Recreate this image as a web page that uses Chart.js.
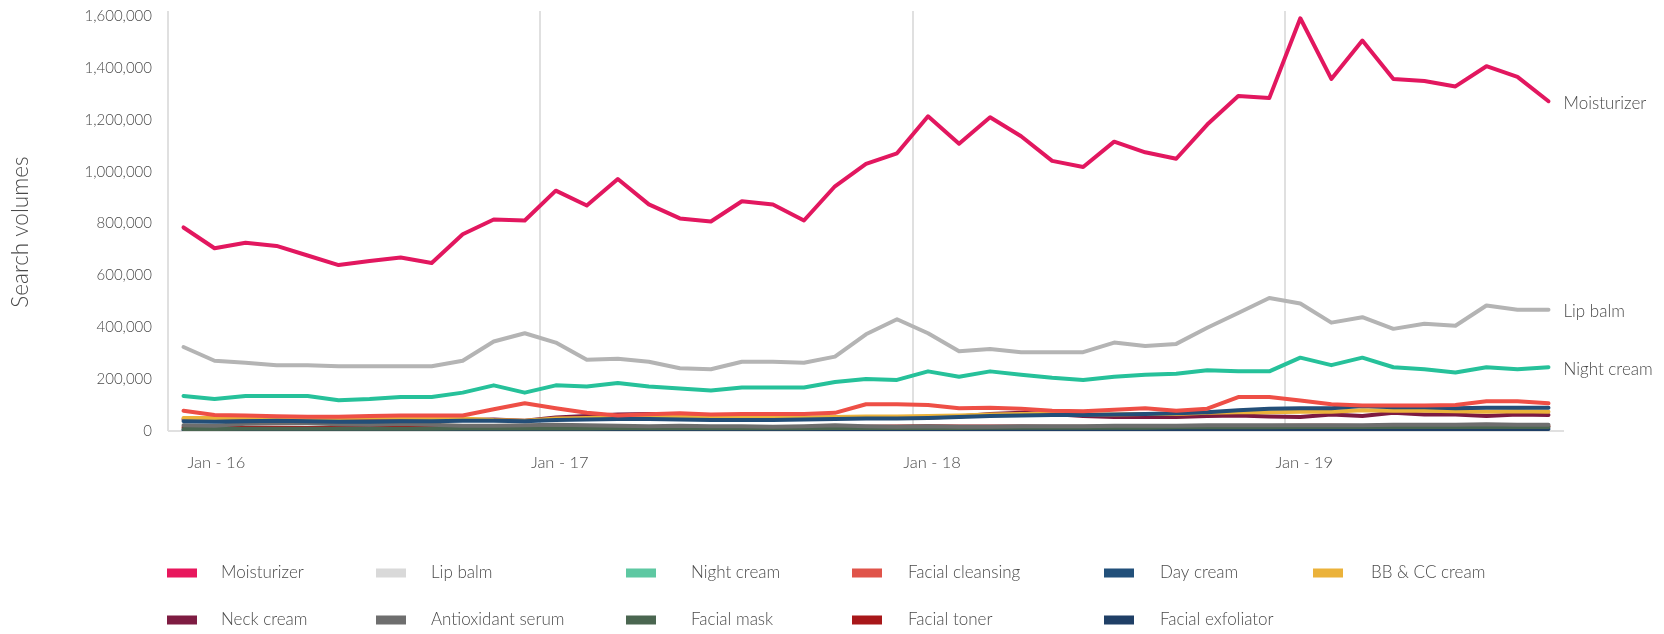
<!DOCTYPE html>
<html>
<head>
<meta charset="utf-8">
<script src="https://cdn.jsdelivr.net/npm/chart.js@4.4.1/dist/chart.umd.min.js"></script>
<style>
  html, body { margin: 0; padding: 0; background: #ffffff; }
  #wrap { width: 1664px; height: 634px; position: relative; }
</style>
</head>
<body>
<div id="wrap"><canvas id="chart" width="1664" height="634"></canvas></div>
<script>
// Monthly search volumes, Jan 2016 – Sep 2019
const months = [
  'Jan - 16','Feb - 16','Mar - 16','Apr - 16','May - 16','Jun - 16','Jul - 16','Aug - 16','Sep - 16','Oct - 16','Nov - 16','Dec - 16',
  'Jan - 17','Feb - 17','Mar - 17','Apr - 17','May - 17','Jun - 17','Jul - 17','Aug - 17','Sep - 17','Oct - 17','Nov - 17','Dec - 17',
  'Jan - 18','Feb - 18','Mar - 18','Apr - 18','May - 18','Jun - 18','Jul - 18','Aug - 18','Sep - 18','Oct - 18','Nov - 18','Dec - 18',
  'Jan - 19','Feb - 19','Mar - 19','Apr - 19','May - 19','Jun - 19','Jul - 19','Aug - 19','Sep - 19'
];

const moisturizer = [
  785000, 705000, 726000, 714000, 677000, 640000, 656000, 669000, 648000, 759000, 816000, 812000,
  927000, 870000, 972000, 874000, 820000, 808000, 886000, 874000, 812000, 944000, 1030000, 1071000,
  1214000, 1108000, 1210000, 1137000, 1042000, 1018000, 1116000, 1075000, 1050000, 1182000, 1292000, 1284000,
  1592000, 1358000, 1506000, 1358000, 1350000, 1329000, 1407000, 1366000, 1272000
];
const lipBalm = [
  324000, 271000, 263000, 254000, 254000, 250000, 250000, 250000, 250000, 271000, 345000, 377000,
  341000, 275000, 279000, 267000, 242000, 238000, 267000, 267000, 263000, 287000, 373000, 431000,
  377000, 308000, 316000, 304000, 304000, 304000, 341000, 328000, 336000, 398000, 455000, 513000,
  492000, 418000, 439000, 394000, 414000, 406000, 484000, 468000, 468000
];
const nightCream = [
  135000, 123000, 135000, 135000, 135000, 119000, 123000, 131000, 131000, 148000, 176000, 148000,
  176000, 172000, 185000, 172000, 164000, 156000, 168000, 168000, 168000, 189000, 201000, 197000,
  230000, 209000, 230000, 217000, 205000, 197000, 209000, 217000, 221000, 234000, 230000, 230000,
  283000, 254000, 283000, 246000, 238000, 226000, 246000, 238000, 246000
];
const facialCleansing = [
  78000, 62000, 60000, 57000, 55000, 55000, 58000, 60000, 60000, 60000, 84000, 107000,
  88000, 70000, 60000, 65000, 68000, 64000, 66000, 66000, 66000, 70000, 103000, 103000,
  100000, 88000, 90000, 86000, 78000, 76000, 82000, 88000, 78000, 86000, 131000, 131000,
  118000, 103000, 98000, 98000, 98000, 100000, 115000, 115000, 107000
];
const dayCream = [
  38000, 36000, 38000, 40000, 38000, 36000, 36000, 38000, 38000, 40000, 40000, 38000,
  42000, 44000, 46000, 46000, 44000, 42000, 42000, 42000, 44000, 46000, 48000, 48000,
  50000, 54000, 58000, 60000, 62000, 62000, 64000, 66000, 68000, 72000, 80000, 86000,
  88000, 88000, 96000, 92000, 92000, 88000, 90000, 90000, 90000
];
const bbCcCream = [
  50000, 50000, 52000, 52000, 50000, 50000, 52000, 52000, 50000, 48000, 42000, 40000,
  48000, 50000, 54000, 56000, 54000, 52000, 52000, 52000, 52000, 54000, 56000, 56000,
  58000, 60000, 64000, 66000, 66000, 64000, 64000, 66000, 66000, 70000, 72000, 72000,
  74000, 74000, 80000, 78000, 78000, 76000, 74000, 76000, 74000
];
const neckCream = [
  45000, 42000, 48000, 48000, 45000, 42000, 42000, 44000, 44000, 42000, 44000, 40000,
  52000, 58000, 64000, 66000, 62000, 54000, 50000, 50000, 50000, 52000, 54000, 50000,
  52000, 56000, 66000, 70000, 66000, 58000, 54000, 54000, 54000, 58000, 60000, 56000,
  54000, 64000, 58000, 70000, 64000, 64000, 58000, 64000, 62000
];
const antioxidantSerum = [
  22000, 20000, 28000, 30000, 30000, 26000, 24000, 28000, 24000, 20000, 20000, 22000,
  24000, 22000, 20000, 18000, 20000, 18000, 18000, 16000, 18000, 22000, 18000, 16000,
  18000, 16000, 16000, 18000, 18000, 18000, 20000, 20000, 20000, 22000, 22000, 22000,
  22000, 22000, 22000, 24000, 24000, 24000, 26000, 24000, 24000
];
const facialMask = [
  8000, 8000, 9000, 9000, 9000, 9000, 9000, 9000, 9000, 10000, 10000, 10000,
  10000, 10000, 11000, 11000, 11000, 11000, 11000, 11000, 11000, 12000, 12000, 12000,
  12000, 12000, 13000, 13000, 13000, 13000, 13000, 13000, 14000, 14000, 14000, 14000,
  15000, 15000, 15000, 15000, 15000, 15000, 15000, 15000, 15000
];
const facialToner = [
  14000, 13000, 13000, 13000, 12000, 12000, 12000, 12000, 12000, 13000, 14000, 15000,
  16000, 15000, 15000, 14000, 14000, 14000, 14000, 14000, 14000, 15000, 16000, 17000,
  18000, 17000, 17000, 17000, 16000, 16000, 16000, 16000, 16000, 17000, 18000, 19000,
  20000, 20000, 19000, 19000, 19000, 18000, 18000, 18000, 18000
];
const facialExfoliator = [
  5000, 5000, 5000, 5000, 5000, 5000, 5000, 5000, 5000, 5000, 5000, 5000,
  6000, 6000, 6000, 6000, 6000, 6000, 6000, 6000, 6000, 6000, 6000, 6000,
  7000, 7000, 7000, 7000, 7000, 7000, 7000, 7000, 7000, 7000, 7000, 7000,
  8000, 8000, 8000, 8000, 8000, 8000, 8000, 8000, 8000
];

const yTicks = [0, 200000, 400000, 600000, 800000, 1000000, 1200000, 1400000, 1600000];
const yTitle = 'Search volumes';

const FONT = "Lato, 'Open Sans', 'Noto Sans', sans-serif";
const TEXT = '#4a4a4a';

// line colour, legend swatch colour, and whether the series gets a label at its end
const series = [
  { label: 'Moisturizer',        data: moisturizer,      line: '#E2175F', swatch: '#E8175D', end: true },
  { label: 'Lip balm',           data: lipBalm,          line: '#B4B4B4', swatch: '#D9D9D9', end: true },
  { label: 'Night cream',        data: nightCream,       line: '#26C19A', swatch: '#5EC8A2', end: true },
  { label: 'Facial cleansing',   data: facialCleansing,  line: '#EE4F46', swatch: '#E0544A' },
  { label: 'Day cream',          data: dayCream,         line: '#234E78', swatch: '#22507A' },
  { label: 'BB & CC cream',      data: bbCcCream,        line: '#EBB23A', swatch: '#EBB23A' },
  { label: 'Neck cream',         data: neckCream,        line: '#7D1A40', swatch: '#7E1C42' },
  { label: 'Antioxidant serum',  data: antioxidantSerum, line: '#6E6E6E', swatch: '#6E6E6E' },
  { label: 'Facial mask',        data: facialMask,       line: '#4A6650', swatch: '#4A6650' },
  { label: 'Facial toner',       data: facialToner,      line: '#A81719', swatch: '#A81719' },
  { label: 'Facial exfoliator',  data: facialExfoliator, line: '#1F3F66', swatch: '#1F3F66' }
];

// legend grid: swatch and text columns, row centres
const legendSwatchX = [167, 376, 626, 852, 1104, 1313];
const legendTextX   = [221, 431, 691, 908, 1160, 1371];
const legendRowY    = [573, 620];

const gridLegend = {
  id: 'gridLegend',
  afterDraw(chart) {
    const ctx = chart.ctx;
    ctx.save();
    ctx.font = `300 17px ${FONT}`;
    ctx.textBaseline = 'middle';
    ctx.textAlign = 'left';
    series.forEach((s, i) => {
      const col = i % 6, row = Math.floor(i / 6);
      const y = legendRowY[row];
      ctx.fillStyle = s.swatch;
      ctx.fillRect(legendSwatchX[col], y - 4.5, 30, 9);
      ctx.fillStyle = TEXT;
      ctx.fillText(s.label, legendTextX[col], y);
    });
    ctx.restore();
  }
};

// series names written just right of each highlighted line's last point
const endLabels = {
  id: 'endLabels',
  afterDatasetsDraw(chart) {
    const ctx = chart.ctx;
    ctx.save();
    ctx.font = `300 17px ${FONT}`;
    ctx.textBaseline = 'middle';
    ctx.textAlign = 'left';
    ctx.fillStyle = TEXT;
    series.forEach((s, i) => {
      if (!s.end) return;
      const pts = chart.getDatasetMeta(i).data;
      const p = pts[pts.length - 1];
      ctx.fillText(s.label, p.x + 15, p.y + 2);
    });
    ctx.restore();
  }
};

// rotated y-axis caption, centred on the plot a little below its midpoint
const yCaption = {
  id: 'yCaption',
  afterDraw(chart) {
    const ctx = chart.ctx;
    const a = chart.chartArea;
    ctx.save();
    ctx.translate(21, (a.top + a.bottom) / 2 + 11);
    ctx.rotate(-Math.PI / 2);
    ctx.font = `300 22.5px ${FONT}`;
    ctx.fillStyle = TEXT;
    ctx.textAlign = 'center';
    ctx.textBaseline = 'middle';
    ctx.fillText(yTitle, 0, 0);
    ctx.restore();
  }
};

new Chart(document.getElementById('chart'), {
  type: 'line',
  data: {
    labels: months,
    datasets: series.map(s => ({
      label: s.label,
      data: s.data,
      borderColor: s.line,
      backgroundColor: s.swatch,
      borderWidth: 4,
      pointRadius: 0,
      tension: 0,
      fill: false,
      borderJoinStyle: 'round',
      borderCapStyle: 'round'
    }))
  },
  options: {
    responsive: false,
    animation: false,
    devicePixelRatio: 1,
    layout: { padding: { top: 11, right: 100, bottom: 163, left: 0 } },
    plugins: {
      legend: { display: false },
      tooltip: { enabled: false }
    },
    scales: {
      x: {
        type: 'category',
        offset: true,
        border: { display: false },
        grid: {
          offset: true,
          drawTicks: false,
          lineWidth: 2,
          color: ctx => (ctx.index !== undefined && ctx.index % 12 === 0) ? '#e0e0e0' : 'rgba(0,0,0,0)'
        },
        ticks: {
          autoSkip: false,
          maxRotation: 0,
          align: 'inner',
          padding: 22,
          labelOffset: 4,
          color: TEXT,
          font: { family: FONT, size: 16.5, weight: 300 },
          callback: (v, i) => (i % 12 === 0 ? months[i] : '')
        },
        afterFit: s => { s.height = 40; }
      },
      y: {
        min: 0,
        max: 1620000,
        border: { display: false },
        grid: {
          drawTicks: false,
          lineWidth: 2,
          color: ctx => (ctx.tick && ctx.tick.value === 0) ? '#e0e0e0' : 'rgba(0,0,0,0)'
        },
        afterBuildTicks: s => { s.ticks = yTicks.map(v => ({ value: v })); },
        ticks: {
          padding: 16,
          color: TEXT,
          font: { family: FONT, size: 15, weight: 300 },
          callback: v => Number(v).toLocaleString('en-US')
        },
        afterFit: s => { s.width = 168; s.paddingTop = 0; s.paddingBottom = 0; }
      }
    }
  },
  plugins: [gridLegend, endLabels, yCaption]
});
</script>
</body>
</html>
